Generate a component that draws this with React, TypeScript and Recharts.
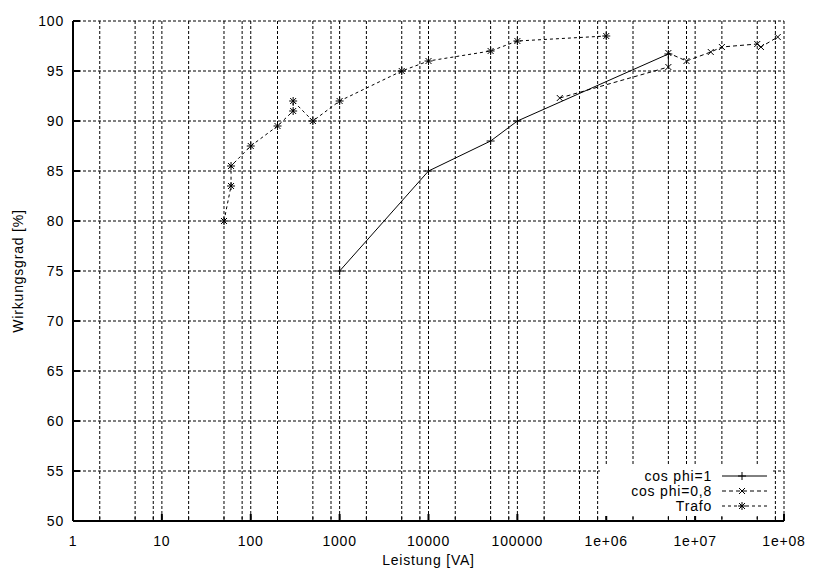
import React from 'react'
import { LineChart, Line, XAxis, YAxis, CartesianGrid, Legend } from 'recharts'

// axis ticks
const xDecades = [1, 10, 100, 1000, 10000, 100000, 1e6, 1e7, 1e8]
const xDecadeLabels = ['1', '10', '100', '1000', '10000', '100000', '1e+06', '1e+07', '1e+08']
const xMinorSteps = [2, 5, 8]
const yTicks = [50, 55, 60, 65, 70, 75, 80, 85, 90, 95, 100]

// series values
const cosPhi1X = [1000, 10000, 50000, 100000, 5e6]
const cosPhi1Y = [75, 85, 88, 90, 96.7]

const cosPhi08X = [3e5, 5e6, 5e6, 8e6, 1.5e7, 2e7, 5e7, 5.5e7, 8.5e7]
const cosPhi08Y = [92.3, 95.4, 96.8, 96, 96.9, 97.4, 97.7, 97.4, 98.4]

const trafoX = [50, 60, 60, 100, 200, 300, 300, 500, 1000, 5000, 10000, 50000, 100000, 1e6]
const trafoY = [80, 83.5, 85.5, 87.5, 89.5, 91, 92, 90, 92, 95, 96, 97, 98, 98.5]

const FONT = '"Liberation Sans", Arial, Helvetica, sans-serif'
const txt = { fontSize: 14, fontFamily: FONT, fill: '#000', letterSpacing: 0.8 }

const toPoints = (xs: number[], ys: number[]) => xs.map((x, i) => ({ x, y: ys[i] }))

const xTicks = xDecades.flatMap((d, i) =>
  i < xDecades.length - 1 ? [d, ...xMinorSteps.map(s => s * d)] : [d]
)
const isMajor = (v: number) => xDecades.includes(v)
const xLabel = (v: number) => xDecadeLabels[xDecades.indexOf(v)] ?? ''

function PlusMark({ cx, cy }: any) {
  return <path d={`M${cx - 4},${cy}H${cx + 4}M${cx},${cy - 4}V${cy + 4}`} stroke="#000" strokeWidth={1} fill="none" />
}
function CrossMark({ cx, cy }: any) {
  return <path d={`M${cx - 3},${cy - 3}L${cx + 3},${cy + 3}M${cx - 3},${cy + 3}L${cx + 3},${cy - 3}`} stroke="#000" strokeWidth={1} fill="none" />
}
function StarMark({ cx, cy }: any) {
  return (
    <path
      d={`M${cx - 4},${cy}H${cx + 4}M${cx},${cy - 4}V${cy + 4}M${cx - 3},${cy - 3}L${cx + 3},${cy + 3}M${cx - 3},${cy + 3}L${cx + 3},${cy - 3}`}
      stroke="#000" strokeWidth={1} fill="none"
    />
  )
}

function BottomTick({ x, y, payload }: any) {
  const major = isMajor(payload.value)
  return (
    <g>
      <line x1={x} y1={y} x2={x} y2={y - (major ? 7 : 4)} stroke="#000" strokeWidth={major ? 2 : 1} />
      {major && (
        <text x={x} y={y + 25} textAnchor="middle" {...txt}>{xLabel(payload.value)}</text>
      )}
    </g>
  )
}
function TopTick({ x, y, payload }: any) {
  const major = isMajor(payload.value)
  return <line x1={x} y1={y} x2={x} y2={y + (major ? 7 : 4)} stroke="#000" strokeWidth={major ? 2 : 1} />
}
function LeftTick({ x, y, payload }: any) {
  return (
    <g>
      <line x1={x} y1={y} x2={x + 7} y2={y} stroke="#000" strokeWidth={2} />
      <text x={x - 9} y={y + 5} textAnchor="end" {...txt}>{payload.value}</text>
    </g>
  )
}
function RightTick({ x, y }: any) {
  return <line x1={x} y1={y} x2={x - 7} y2={y} stroke="#000" strokeWidth={2} />
}

const keyRows = [
  { name: 'cos phi=1', dash: undefined, Mark: PlusMark },
  { name: 'cos phi=0,8', dash: '4 3', Mark: CrossMark },
  { name: 'Trafo', dash: '3 3', Mark: StarMark },
]

function KeyBox() {
  return (
    <svg width={172} height={50} style={{ display: 'block' }}>
      {keyRows.map((r, i) => {
        const cy = 10 + i * 15
        return (
          <g key={r.name}>
            <text x={112} y={cy + 5} textAnchor="end" {...txt}>{r.name}</text>
            <line x1={122} y1={cy} x2={167} y2={cy} stroke="#000" strokeWidth={1} strokeDasharray={r.dash} />
            <r.Mark cx={142} cy={cy} />
          </g>
        )
      })}
    </svg>
  )
}

const axisLine = { stroke: '#000', strokeWidth: 2 }

export default function App() {
  return (
    <div style={{ position: 'absolute', left: 0, top: 0, background: '#fff', fontFamily: FONT }}>
      <LineChart width={815} height={573} margin={{ top: 21, right: 31, bottom: 0, left: 0 }}>
        <CartesianGrid stroke="#000" strokeDasharray="3 2" strokeWidth={1} />
        <XAxis
          dataKey="x" type="number" scale="log" domain={[1, 1e8]} allowDataOverflow ticks={xTicks}
          interval={0} height={52} tickSize={0} tickMargin={0} axisLine={axisLine}
          tick={(p: any) => <BottomTick {...p} />}
          label={{
            content: ({ viewBox }: any) => (
              <text x={viewBox.x + viewBox.width / 2} y={viewBox.y + 44} textAnchor="middle" {...txt}>
                Leistung [VA]
              </text>
            ),
          }}
        />
        <XAxis
          xAxisId="top" orientation="top" type="number" scale="log" domain={[1, 1e8]} allowDataOverflow ticks={xTicks}
          interval={0} height={0} tickSize={0} tickMargin={0} axisLine={axisLine}
          tick={(p: any) => <TopTick {...p} />}
        />
        <YAxis
          type="number" domain={[50, 100]} allowDataOverflow ticks={yTicks} interval={0} width={73}
          tickSize={0} tickMargin={0} axisLine={axisLine}
          tick={(p: any) => <LeftTick {...p} />}
          label={{
            content: ({ viewBox }: any) => {
              const cx = viewBox.x + 23
              const cy = viewBox.y + viewBox.height / 2
              return (
                <text x={cx} y={cy} transform={`rotate(-90 ${cx} ${cy})`} textAnchor="middle" {...txt}>
                  Wirkungsgrad [%]
                </text>
              )
            },
          }}
        />
        <YAxis
          yAxisId="right" orientation="right" type="number" domain={[50, 100]} allowDataOverflow ticks={yTicks}
          interval={0} width={0} tickSize={0} tickMargin={0} axisLine={axisLine}
          tick={(p: any) => <RightTick {...p} />}
        />
        <Line
          data={toPoints(cosPhi1X, cosPhi1Y)} dataKey="y" name="cos phi=1" stroke="#000" strokeWidth={1}
          isAnimationActive={false} dot={(p: any) => <PlusMark key={p.index} cx={p.cx} cy={p.cy} />} activeDot={false}
        />
        <Line
          data={toPoints(cosPhi08X, cosPhi08Y)} dataKey="y" name="cos phi=0,8" stroke="#000" strokeWidth={1}
          strokeDasharray="4 3" isAnimationActive={false}
          dot={(p: any) => <CrossMark key={p.index} cx={p.cx} cy={p.cy} />} activeDot={false}
        />
        <Line
          data={toPoints(trafoX, trafoY)} dataKey="y" name="Trafo" stroke="#000" strokeWidth={1}
          strokeDasharray="3 3" isAnimationActive={false}
          dot={(p: any) => <StarMark key={p.index} cx={p.cx} cy={p.cy} />} activeDot={false}
        />
        <Legend
          layout="vertical" align="center" verticalAlign="middle" content={() => <KeyBox />}
          wrapperStyle={{ position: 'absolute', left: 600, top: 466, width: 172, height: 50, background: '#fff' }}
        />
      </LineChart>
    </div>
  )
}
